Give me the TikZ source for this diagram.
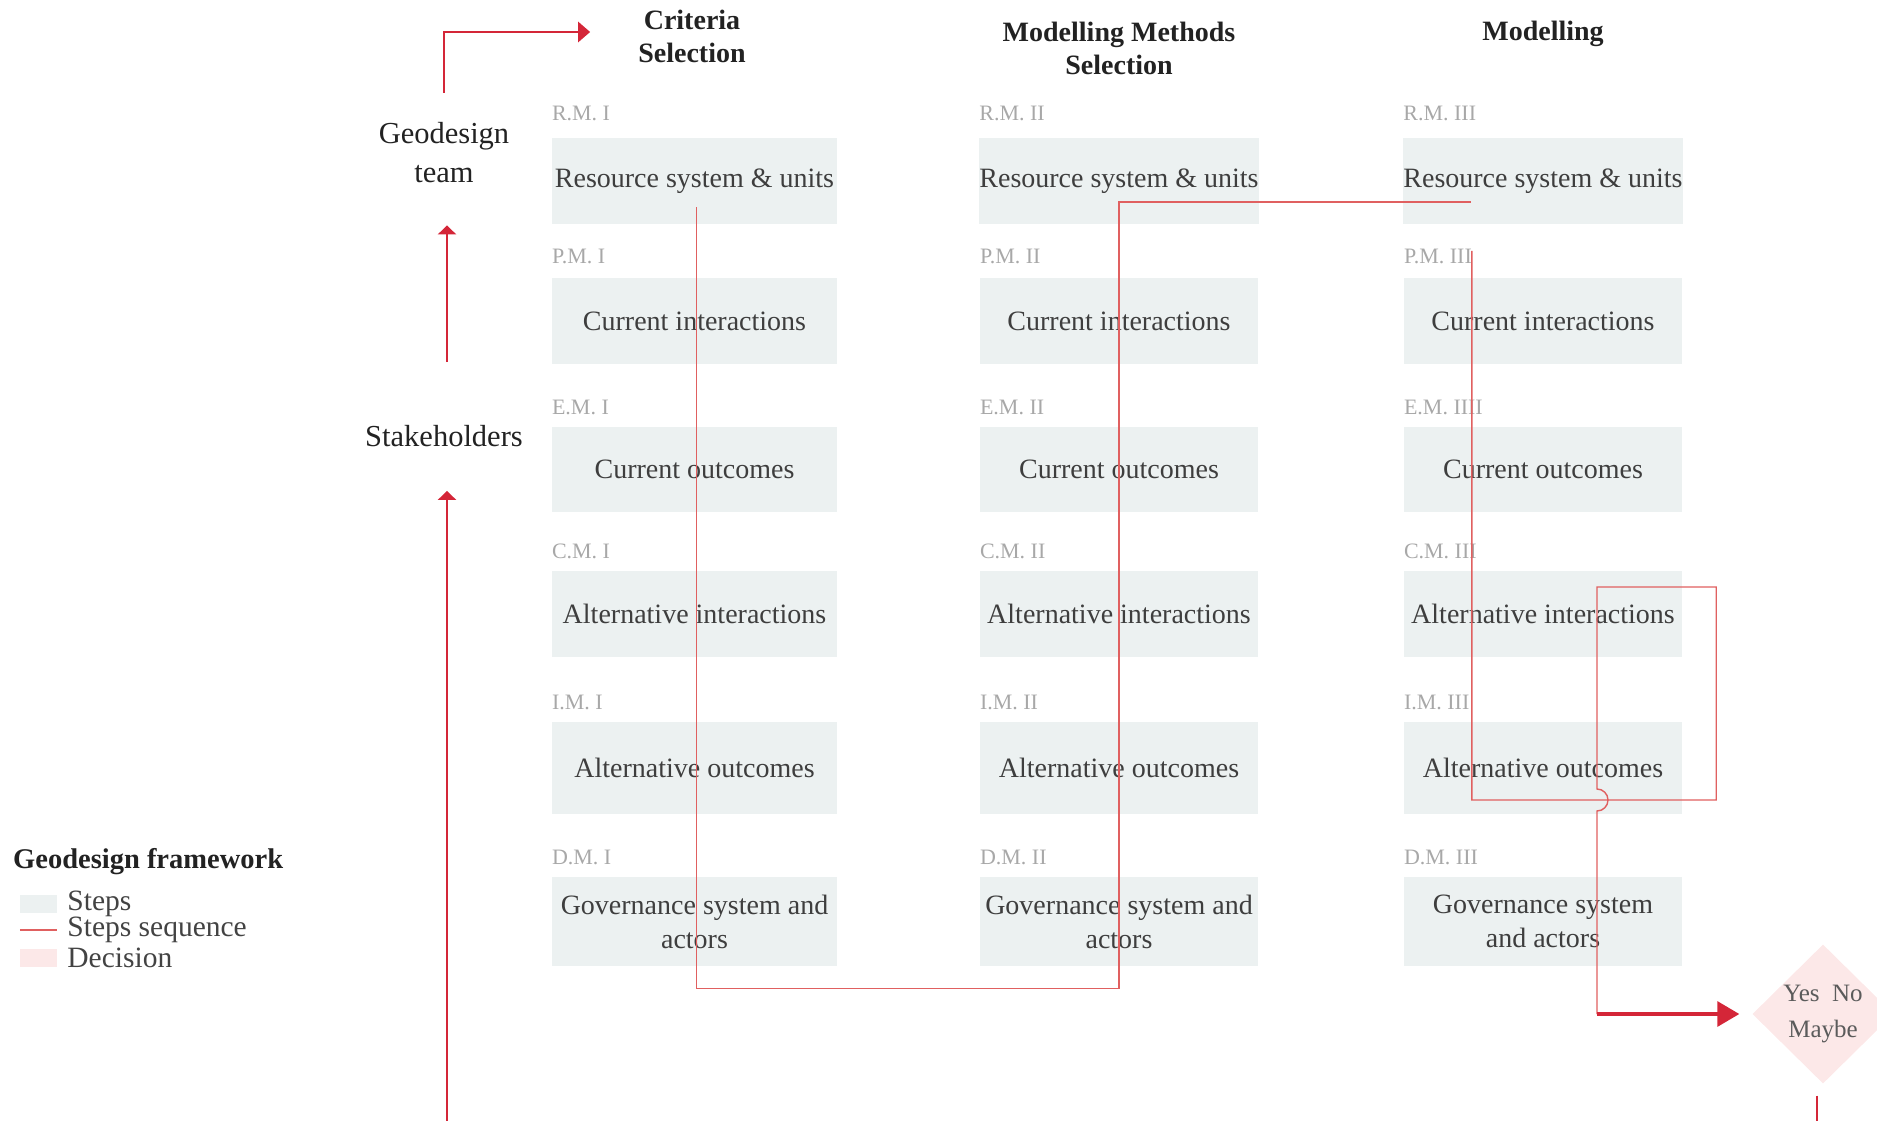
\documentclass[tikz,border=0pt]{standalone}
\usepackage{fontspec}
\setmainfont{Liberation Serif}
\usetikzlibrary{positioning,shapes.geometric,arrows.meta}
\definecolor{stepfill}{RGB}{236,241,241}
\definecolor{decfill}{RGB}{252,232,232}
\definecolor{seqred}{RGB}{224,96,96}
\definecolor{arrred}{RGB}{212,38,56}
\definecolor{labgrey}{RGB}{168,168,168}
\definecolor{boxtext}{RGB}{62,62,62}
\definecolor{headtext}{RGB}{34,34,34}
\tikzset{
	stepbox/.style={fill=stepfill, inner sep=0pt, text=boxtext, align=center, font=\fontsize{28}{34}\selectfont},
	steplabel/.style={anchor=base west, inner sep=0pt, text=labgrey, font=\fontsize{22}{22}\selectfont},
	colhead/.style={align=center, inner sep=0pt, text=headtext, font=\bfseries\fontsize{28}{33}\selectfont},
	actor/.style={align=center, inner sep=0pt, text=headtext, font=\fontsize{30.5}{39}\selectfont},
	decision/.style={diamond, fill=decfill, inner sep=0pt, minimum width=141pt, minimum height=139pt, align=center, text=boxtext!85, font=\fontsize{25}{36}\selectfont},
	keytext/.style={anchor=west, inner sep=0pt, text=headtext!85, font=\fontsize{29.5}{29.5}\selectfont},
	keybox/.style={inner sep=0pt, minimum width=37pt, minimum height=18pt},
	seqline/.style={draw=seqred, line width=1.4pt},
	flowline/.style={draw=arrred, line width=2.2pt},
}
\begin{document}
\begin{tikzpicture}[x=1pt,y=-1pt]
\useasboundingbox (0,0) rectangle (1877,1121);

\node[colhead] (crit) at (692,36) {Criteria\\Selection};
\node[colhead] (mms) at (1119,48) {Modelling Methods\\Selection};
\node[colhead] (mod) at (1543,34) {Modelling};

\node[actor] (team) at (444,153) {Geodesign\\team};
\node[actor] (stake) at (444,436) {Stakeholders};

\foreach \col/\cx/\bw in {1/694.5/285,2/1119/278,3/1543/278}
\foreach \rw/\ry/\bh/\txt in {rs/181/86/{Resource system \& units},ci/321/86/{Current interactions},co/469.5/85/{Current outcomes},ai/614/86/{Alternative interactions},ao/768/92/{Alternative outcomes}}
	\node[stepbox, minimum width=\bw pt, minimum height=\bh pt] (\rw\col) at (\cx,\ry) {\txt};
\foreach \col/\cx/\bw/\txt in {1/694.5/285/{Governance system and\\actors},2/1119/278/{Governance system and\\actors},3/1543/278/{Governance system\\and actors}}
	\node[stepbox, minimum width=\bw pt, minimum height=89pt] (gs\col) at (\cx,921.5) {\txt};

\foreach \rw/\pre/\nc/\dy in {rs/R/III/17,ci/P/III/14,co/E/IIII/12,ai/C/III/12,ao/I/III/12,gs/D/III/12}
{
	\node[steplabel] (\rw1lab) at ([yshift=\dy pt]\rw1.north west) {\pre.M. I};
	\node[steplabel] (\rw2lab) at ([yshift=\dy pt]\rw2.north west) {\pre.M. II};
	\node[steplabel] (\rw3lab) at ([yshift=\dy pt]\rw3.north west) {\pre.M. \nc};
}

\node[decision] (decision) at (1823,1014) {Yes~~No\\Maybe};
\coordinate (jumpend) at ([xshift=54pt]ai3.center |- decision.west);
\coordinate (decout) at (1817,1140);
\coordinate (stakesrc) at (447,1140);

\draw[seqline] ([xshift=2pt,yshift=-26pt]rs1.center) |- ([yshift=-22pt]gs2.south) -- ([yshift=-21pt]rs2.center) -- ([xshift=68pt,yshift=-21pt]rs3.west);
\draw[seqline] ([xshift=68pt,yshift=27pt]ci3.north west) |- ([xshift=34pt,yshift=-32pt]ao3.east) |- ([xshift=54pt,yshift=27pt]ai3.center) -- ([xshift=54pt,yshift=-21pt]ao3.center) arc[start angle=90, end angle=-90, radius=11pt] -- (jumpend);
\draw[flowline, line width=3.2pt, -{Triangle[length=22pt,width=25pt]}] (jumpend) -- ([xshift=-13pt]decision.west);
\draw[flowline] ([xshift=-6pt,yshift=-12pt]decision.south) -- (decout);

\draw[flowline, line width=2.8pt, -{Triangle[length=12pt,width=20pt]}] ([yshift=30pt]team.north) |- ([xshift=-48pt,yshift=4pt]crit.west);
\draw[flowline, -{Triangle[length=9pt,width=18pt]}] ([xshift=3pt,yshift=63pt]stake.north) -- ([xshift=3pt,yshift=-42pt]team.south);
\draw[flowline, -{Triangle[length=9pt,width=18pt]}] (stakesrc) -- ([xshift=3pt,yshift=-44pt]stake.south);

\node[anchor=west, inner sep=0pt, text=headtext, font=\bfseries\fontsize{28.5}{28.5}\selectfont] (keytitle) at (13,862) {Geodesign framework};
\node[keybox, fill=stepfill] (keystep) at (38.5,904) {};
\node[keytext, right=10pt of keystep] (keysteptxt) {Steps};
\node[keybox, minimum height=2pt] (keyseq) at (38.5,930) {};
\draw[seqline] (keyseq.west) -- (keyseq.east);
\node[keytext, right=10pt of keyseq] (keyseqtxt) {Steps sequence};
\node[keybox, fill=decfill] (keydec) at (38.5,958) {};
\node[keytext, right=10pt of keydec] (keydectxt) {Decision};
\end{tikzpicture}
\end{document}
